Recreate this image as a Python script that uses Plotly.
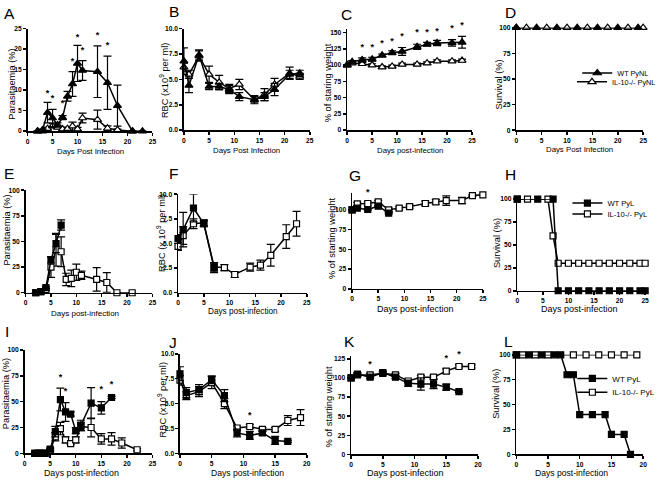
import plotly.graph_objects as go

W, H = 661, 481

# ---------------- DATA ----------------
# A: parasitaemia PyNL
A_x_wt = [2, 3, 4, 5, 6, 7, 8, 9, 10, 11, 14, 16, 18, 21, 23]
A_wt = [0, 0.3, 4.5, 3.2, 1.5, 3.3, 8.5, 11.5, 16.5, 14.8, 14.5, 11.8, 6.2, 0, 0]
A_wt_err = [0, 0.2, 2.5, 2.1, 0.5, 0.5, 1.2, 3.0, 4.4, 2.4, 6.3, 6.5, 5.0, 0, 0]
A_x_ko = [2, 3, 4, 5, 6, 7, 8, 9, 10, 11, 14, 16, 18, 21]
A_ko = [0, 0, 0.6, 1.3, 0.9, 0.5, 0.6, 1.2, 0.5, 3.2, 2.8, 0.7, 0.3, 0]
A_ko_err = [0, 0, 0.3, 0.5, 0.3, 0.3, 0.4, 1.0, 0.4, 1.2, 2.3, 0.6, 0.2, 0]
A_star_x = [4, 5, 7, 9, 10, 11, 14, 16]
A_star_y = [9.2, 7.8, 6.6, 17.0, 22.8, 19.6, 23.2, 20.8]

# B: RBC PyNL
B_x = [0, 1, 3, 5, 7, 9, 11, 14, 16, 18, 21, 23]
B_wt = [6.8, 4.4, 7.4, 4.3, 4.3, 4.0, 3.3, 3.0, 3.3, 4.0, 5.5, 5.6]
B_wt_err = [1.3, 0.7, 0.5, 0.3, 0.3, 0.4, 0.4, 0.4, 0.4, 0.6, 0.4, 0.3]
B_ko = [6.2, 5.5, 7.3, 5.5, 4.7, 4.1, 4.5, 3.0, 3.5, 4.5, 5.6, 5.3]
B_ko_err = [0.4, 0.4, 0.5, 0.8, 0.7, 0.4, 0.5, 0.3, 0.6, 0.6, 0.6, 0.3]

# C: weight PyNL
C_x = [0, 1, 3, 5, 7, 9, 11, 14, 16, 18, 21, 23]
C_wt = [100, 105, 108, 109, 115, 119, 121, 128, 132, 134, 134, 135]
C_wt_err = [1, 2, 3, 3, 2, 3, 6, 4, 3, 4, 5, 9]
C_ko = [100, 103, 102, 100, 97, 98, 101, 101, 103, 106, 106, 107]
C_ko_err = [1, 2, 2, 2, 2, 2, 2, 2, 2, 2, 2, 2]
C_star_x = [3, 5, 7, 9, 11, 14, 16, 18, 21, 23]
C_star_y = [126, 127, 132, 136, 144, 150, 149, 151, 156, 160]

# D: survival PyNL
D_x_wt = [0, 4, 8, 12, 16, 20, 24]
D_wt = [100, 100, 100, 100, 100, 100, 100]
D_x_ko = [0, 2, 6, 10, 14, 18, 22, 25]
D_ko = [100, 100, 100, 100, 100, 100, 100, 100]

# E: parasitaemia PyL
E_x_wt = [2, 3, 4, 5, 6, 7]
E_wt = [0, 1, 5, 32, 48, 66]
E_wt_err = [0, 0.5, 1, 3, 9, 5]
E_x_ko = [2, 3, 4, 5, 6, 7, 8, 9, 10, 11, 14, 16, 18, 21]
E_ko = [0, 1, 3, 25, 42, 40, 13, 14, 20, 17, 13, 10, 0, 0]
E_ko_err = [0, 0.5, 1, 10, 16, 14.5, 6, 8, 8, 4, 11.5, 9.7, 0, 0]

# F: RBC PyL
F_x_wt = [0, 1, 3, 5, 7]
F_wt = [5.5, 6.4, 8.6, 7.0, 2.55]
F_wt_err = [0.4, 1.75, 1.4, 0.3, 0.5]
F_x_ko = [0, 1, 3, 5, 7, 9, 11, 14, 16, 18, 21, 23]
F_ko = [4.7, 5.8, 7.0, 7.1, 2.6, 2.55, 1.85, 2.6, 2.8, 3.8, 5.7, 7.0]
F_ko_err = [0.4, 0.9, 0.5, 0.3, 0.4, 0.3, 0.3, 0.4, 0.5, 1.1, 1.2, 1.25]

# G: weight PyL
G_x_wt = [0, 1, 3, 5, 7]
G_wt = [100, 102, 100.4, 104.6, 95.8]
G_wt_err = [1, 1, 1, 1, 1]
G_x_ko = [0, 1, 3, 5, 7, 9, 11, 14, 16, 18, 21, 23, 25]
G_ko = [100, 107.5, 108, 110, 100, 102, 104, 108, 110, 111.7, 111.7, 118, 119]
G_ko_err = [1, 2, 2, 2, 2, 2, 2, 3, 3, 6, 4, 1, 1]
G_star_x = [3]
G_star_y = [121]

# H: survival PyL
H_x_wt = [0, 4, 7, 8, 10, 12, 14, 16, 18, 20, 22, 24, 25]
H_wt = [100, 100, 100, 0, 0, 0, 0, 0, 0, 0, 0, 0, 0]
H_x_ko = [0, 2, 6, 7, 8, 10, 12, 14, 16, 18, 20, 22, 24, 25]
H_ko = [100, 100, 100, 60, 30, 30, 30, 30, 30, 30, 30, 30, 30, 30]

# I: parasitaemia PyL (2nd)
I_x_wt = [2, 2.5, 3, 3.5, 4, 5, 6, 7, 8, 9, 10, 11, 13, 15, 17]
I_wt = [0, 0, 0, 0, 0, 4, 21, 52, 40, 38, 22, 27, 48.5, 44, 54]
I_wt_err = [0, 0, 0, 0, 0, 1, 5, 11, 9, 2, 3, 5, 15, 6, 1]
I_x_ko = [2, 2.5, 3, 3.5, 4, 5, 6, 7, 8, 9, 10, 11, 13, 15, 17, 19, 22]
I_ko = [0, 0, 0, 0, 0, 3, 16, 24, 13, 9.5, 13, 26, 25, 14, 14, 10, 3.5]
I_ko_err = [0, 0, 0, 0, 0, 1, 4, 6, 3, 1, 3, 4, 9, 5, 6, 5, 1]
I_star_x = [7, 8, 15, 17]
I_star_y = [73, 60, 61, 66.6]

# J: RBC PyL (2nd)
J_x_wt = [0, 1, 3, 5, 7, 9, 11, 13, 15, 17]
J_wt = [8.0, 6.1, 6.4, 7.4, 5.8, 2.05, 1.8, 2.05, 1.3, 1.2]
J_wt_err = [0.7, 0.5, 0.5, 0.4, 0.6, 0.4, 0.4, 0.2, 0.4, 0.1]
J_x_ko = [0, 1, 3, 5, 7, 9, 11, 13, 15, 17, 19]
J_ko = [7.35, 5.8, 6.2, 7.1, 5.0, 2.55, 2.7, 2.4, 2.4, 3.3, 3.6]
J_ko_err = [0.5, 0.4, 0.5, 0.6, 0.5, 0.2, 0.2, 0.2, 0.2, 0.5, 0.8]
J_star_x = [11]
J_star_y = [3.8]

# K: weight PyL (2nd)
K_x_wt = [0, 1, 3, 5, 7, 9, 11, 13, 15, 17]
K_wt = [100, 105, 101, 107, 101, 93, 92, 92, 88, 82]
K_wt_err = [1, 2, 2, 2, 2, 4, 8, 6, 4, 1]
K_x_ko = [0, 1, 3, 5, 7, 9, 11, 13, 15, 17, 19]
K_ko = [100, 104, 104, 106, 104, 96, 101, 101, 109, 115, 115]
K_ko_err = [1, 2, 2, 2, 2, 2, 2, 2, 3, 2, 2]
K_star_x = [3, 15, 17]
K_star_y = [117, 125, 131]

# L: survival PyL (2nd)
L_x_wt = [0, 2, 4, 6, 7, 8, 9, 10, 12, 14, 15, 17, 18]
L_wt = [100, 100, 100, 100, 100, 80, 80, 40, 40, 40, 20, 20, 0]
L_x_ko = [0, 1, 3, 5, 9, 11, 13, 15, 17, 19]
L_ko = [100, 100, 100, 100, 100, 100, 100, 100, 100, 100]

# ---------------- LAYOUT GEOMETRY (pixels) ----------------
# panel: (left, right, top, bottom, xmax, ymax, ytickvals, yfmt)
panels = {
    1: (26, 153, 25, 129, 25, 25, [0, 5, 10, 15, 20, 25], None),
    2: (185, 313, 25, 128, 25, 10, [0, 2.5, 5, 7.5, 10], '.1f'),
    3: (351, 478, 25, 128, 25, 156, [0, 25, 50, 75, 100, 125, 150], None),
    4: (523, 652, 24, 128, 25, 100, [0, 25, 50, 75, 100], None),
    5: (24, 153, 189, 293, 25, 100, [0, 25, 50, 75, 100], None),
    6: (179, 310, 193, 293, 25, 10, [0, 2.5, 5, 7.5, 10], '.1f'),
    7: (356, 489, 192, 289, 25, 121, [0, 25, 50, 75, 100], None),
    8: (524, 654, 198, 291, 25, 100, [0, 25, 50, 75, 100], None),
    9: (23, 153, 351, 456, 25, 100, [0, 25, 50, 75, 100], None),
    10: (181, 310, 355, 456, 20, 10, [0, 2.5, 5, 7.5, 10], '.1f'),
    11: (355, 484, 357, 457, 20, 129, [0, 25, 50, 75, 100, 125], None),
    12: (523, 652, 356, 457, 20, 100, [0, 25, 50, 75, 100], None),
}
STAR_HEADROOM = 14  # extra pixels above each panel where stars may sit

FONT = 'Liberation Sans, Arial, sans-serif'

fig = go.Figure()


def ax(i):
    return ('x' if i == 1 else f'x{i}'), ('y' if i == 1 else f'y{i}')


def add_series(i, x, y, err, symbol, filled, name=None, legend=None):
    xa, ya = ax(i)
    marker = dict(symbol=symbol, size=7 if 'triangle' in symbol else 6,
                  color='black' if filled else 'white',
                  line=dict(color='black', width=1.2))
    ey = dict(type='data', array=err, visible=True, color='black',
              thickness=1.2, width=4) if err is not None else dict(visible=False)
    fig.add_trace(go.Scatter(
        x=x, y=y, mode='lines+markers', line=dict(color='black', width=1.5),
        marker=marker, error_y=ey, xaxis=xa, yaxis=ya,
        showlegend=name is not None, name=name or 'series',
        legend=legend or 'legend', cliponaxis=False, hoverinfo='skip'))


# open series first, filled on top
add_series(1, A_x_ko, A_ko, A_ko_err, 'triangle-up', False)
add_series(1, A_x_wt, A_wt, A_wt_err, 'triangle-up', True)
add_series(2, B_x, B_ko, B_ko_err, 'triangle-up', False)
add_series(2, B_x, B_wt, B_wt_err, 'triangle-up', True)
add_series(3, C_x, C_ko, C_ko_err, 'triangle-up', False)
add_series(3, C_x, C_wt, C_wt_err, 'triangle-up', True)
add_series(4, D_x_ko, D_ko, None, 'triangle-up', False, 'IL-10-/- PyNL', 'legend2')
add_series(4, D_x_wt, D_wt, None, 'triangle-up', True, 'WT PyNL', 'legend')
add_series(5, E_x_ko, E_ko, E_ko_err, 'square', False)
add_series(5, E_x_wt, E_wt, E_wt_err, 'square', True)
add_series(6, F_x_ko, F_ko, F_ko_err, 'square', False)
add_series(6, F_x_wt, F_wt, F_wt_err, 'square', True)
add_series(7, G_x_ko, G_ko, G_ko_err, 'square', False)
add_series(7, G_x_wt, G_wt, G_wt_err, 'square', True)
add_series(8, H_x_ko, H_ko, None, 'square', False, 'IL-10-/- PyL', 'legend4')
add_series(8, H_x_wt, H_wt, None, 'square', True, 'WT PyL', 'legend3')
add_series(9, I_x_ko, I_ko, I_ko_err, 'square', False)
add_series(9, I_x_wt, I_wt, I_wt_err, 'square', True)
add_series(10, J_x_ko, J_ko, J_ko_err, 'square', False)
add_series(10, J_x_wt, J_wt, J_wt_err, 'square', True)
add_series(11, K_x_ko, K_ko, K_ko_err, 'square', False)
add_series(11, K_x_wt, K_wt, K_wt_err, 'square', True)
add_series(12, L_x_ko, L_ko, None, 'square', False, 'IL-10-/- PyL', 'legend6')
add_series(12, L_x_wt, L_wt, None, 'square', True, 'WT PyL', 'legend5')

layout = {}
for i, (l, r, t, b, xmax, ymax, ytv, yfmt) in panels.items():
    xa, ya = ax(i)
    xkey = 'xaxis' if i == 1 else f'xaxis{i}'
    ykey = 'yaxis' if i == 1 else f'yaxis{i}'
    common = dict(showline=True, linecolor='black', linewidth=1.5,
                  ticks='outside', ticklen=3, tickwidth=1.5, tickcolor='black',
                  showgrid=False, zeroline=False, fixedrange=True,
                  tickfont=dict(family=FONT, size=6.7, color='black', weight='bold'))
    xtv = list(range(0, xmax + 1, 5))
    layout[xkey] = dict(domain=[l / W, r / W], range=[0, xmax], anchor=ya,
                        tickvals=xtv, **common)
    layout[ykey] = dict(domain=[1 - b / H, 1 - t / H], range=[0, ymax], anchor=xa,
                        tickvals=ytv,
                        ticktext=[format(v, yfmt) if yfmt else str(v) for v in ytv],
                        **common)

# significance stars: drawn on hidden y-axes with the same scale but extra headroom
for i, xs, ys in [(1, A_star_x, A_star_y), (3, C_star_x, C_star_y), (7, G_star_x, G_star_y),
                  (9, I_star_x, I_star_y), (10, J_star_x, J_star_y), (11, K_star_x, K_star_y)]:
    l, r, t, b, xmax, ymax = panels[i][:6]
    xa, _ = ax(i)
    sy = 12 + i
    top = t - STAR_HEADROOM
    layout[f'yaxis{sy}'] = dict(domain=[1 - b / H, 1 - top / H],
                                range=[0, ymax * (b - top) / (b - t)],
                                anchor=xa, visible=False, fixedrange=True)
    fig.add_trace(go.Scatter(
        x=xs, y=ys, mode='text', text=['*'] * len(xs), textposition='middle center',
        textfont=dict(family=FONT, size=9, color='black', weight='bold'),
        xaxis=xa, yaxis=f'y{sy}', showlegend=False, cliponaxis=False, hoverinfo='skip'))

annotations = []


def txt(x, y, s, size=9.3, angle=0, xanchor='center'):
    annotations.append(dict(x=x / W, y=1 - y / H, xref='paper', yref='paper',
                            text=s, showarrow=False, textangle=angle,
                            xanchor=xanchor, yanchor='middle',
                            font=dict(family=FONT, size=size, color='black')))


# panel letters
for letter, (x, y) in {'A': (0, 10), 'B': (168, 8), 'C': (343, 11), 'D': (509, 9),
                       'E': (0, 172), 'F': (168, 172), 'G': (351, 174), 'H': (509, 173),
                       'I': (1, 332), 'J': (168, 344), 'K': (346, 342), 'L': (508, 342)}.items():
    txt(x, y, letter, size=15.5, xanchor='left')

# x titles (text, cx, cy, size)
xt = [('Days Post Infection', 90, 150, 7.8), ('Days Post Infection', 249, 149, 7.8),
      ('Days post-infection', 415, 149, 7.8), ('Days Post Infection', 587, 148, 7.8),
      ('Days post-infection', 84, 314, 8), ('Days post-infection', 245, 312, 8.2),
      ('Days post-infection', 420, 309, 9), ('Days post-infection', 587, 309, 9),
      ('Days post-infection', 81, 476, 8.8), ('Days post-infection', 250, 476, 8.6),
      ('Days post-infection', 410, 476, 9), ('Days post-infection', 579, 476, 8.6)]
for s, x, y, sz in xt:
    txt(x, y, s, size=sz)

# y titles
yt = [('Parasitaemia (%)', 10, 81), ('RBC (x10<sup>9</sup> per ml)', 165, 78),
      ('% of staring weight', 331, 80), ('Survival (%)', 505, 82),
      ('Parasitaemia (%)', 5, 229), ('RBC (x 10<sup>9</sup> per ml)', 161, 232),
      ('% of starting weight', 335, 237), ('Survival (%)', 504, 243),
      ('Parasitaemia (%)', 4, 395), ('RBC (x10<sup>9</sup> per ml)', 163, 402),
      ('% of starting weight', 333, 408), ('Survival (%)', 503, 396)]
for s, x, y in yt:
    txt(x, y, s, angle=-90)


def leg(x, y, size):
    return dict(x=x / W, y=1 - y / H, xanchor='left', yanchor='middle',
                font=dict(family=FONT, size=size, color='black'),
                bgcolor='rgba(0,0,0,0)', tracegroupgap=0, itemwidth=30)


fig.update_layout(
    width=W, height=H, margin=dict(l=0, r=0, t=0, b=0),
    paper_bgcolor='white', plot_bgcolor='rgba(0,0,0,0)',
    annotations=annotations,
    legend=leg(585, 70, 7.3), legend2=leg(580, 79, 7.3),
    legend3=leg(575, 202, 7.6), legend4=leg(575, 213, 7.6),
    legend5=leg(580, 380, 8), legend6=leg(580, 394, 8),
    **layout)

fig.write_html('out.html', config={'displayModeBar': False, 'staticPlot': True},
               post_script="document.body.style.margin='0px';")
